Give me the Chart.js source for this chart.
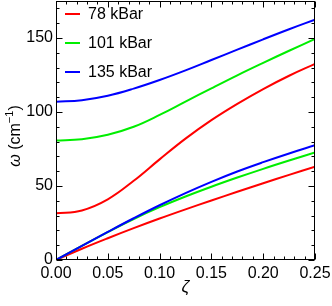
<!DOCTYPE html>
<html><head><meta charset="utf-8">
<script src="https://cdn.jsdelivr.net/npm/chart.js@4"></script>
<style>html,body{margin:0;padding:0;background:#fff}</style>
</head><body>
<canvas id="c" width="332" height="306"></canvas>
<script>
// ---- data ----
const zeta = [0, 0.025, 0.05, 0.075, 0.1, 0.125, 0.15, 0.175, 0.2, 0.225, 0.25];
const optical78  = [31.5, 33.5, 41, 53.5, 68, 82, 94.5, 105.5, 115.5, 124.5, 132.5];
const optical101 = [80.7, 81.6, 84.6, 90, 98, 107, 116, 124.8, 133.2, 141.4, 149.4];
const optical135 = [107, 108, 111, 115.8, 121.6, 128.1, 135.1, 142.1, 149.1, 155.9, 162.4];
const acoustic78  = [0, 7.6, 14.7, 21.5, 28, 34.2, 40.2, 46.1, 51.9, 57.5, 63];
const acoustic101 = [0, 9.6, 18.9, 27.7, 35.7, 42.9, 49.5, 55.7, 61.6, 67.2, 72.6];
const acoustic135 = [0, 9.6, 19, 28.2, 37, 45.2, 52.8, 59.8, 66.1, 72, 77.5];
const seriesLabels = ['78 kBar', '101 kBar', '135 kBar'];
const seriesColors = ['#ff0000', '#00ee00', '#0000ff'];
const xTicks = [0, 0.05, 0.1, 0.15, 0.2, 0.25];
const yTicks = [0, 50, 100, 150];
const xMinorStep = 0.01, yMinorStep = 10;

const FONT = '"Liberation Sans", Arial, sans-serif';
const pts = arr => arr.map((v, i) => ({x: zeta[i], y: v}));
function ds(label, data, color) {
  return {label, data: pts(data), borderColor: color, borderWidth: 2, pointRadius: 0,
          fill: false, tension: 0.4};
}
// dataset 0 drawn on top
const datasets = [
  ds(seriesLabels[2], acoustic135, seriesColors[2]),
  ds(seriesLabels[1], acoustic101, seriesColors[1]),
  ds(seriesLabels[0], acoustic78, seriesColors[0]),
  ds(seriesLabels[2], optical135, seriesColors[2]),
  ds(seriesLabels[1], optical101, seriesColors[1]),
  ds(seriesLabels[0], optical78, seriesColors[0])
];

const framePlugin = {
  id: 'frame',
  afterDraw(chart) {
    const {ctx, chartArea: a, scales: {x, y}} = chart;
    ctx.save();
    ctx.strokeStyle = '#000';
    ctx.lineWidth = 1;
    const L = Math.round(a.left) + 0.5, R = Math.round(a.right) - 0.5;
    const T = Math.round(a.top) + 0.5, B = Math.round(a.bottom) - 0.5;
    ctx.strokeRect(L, T, R - L, B - T);
    ctx.beginPath();
    const xmin = x.min, xmax = x.max;
    for (let k = 0; k <= Math.round((xmax - xmin) / xMinorStep); k++) {
      const v = xmin + k * xMinorStep;
      const major = xTicks.some(t => Math.abs(t - v) < 1e-9);
      const len = major ? 6 : 3;
      const px = Math.round(x.getPixelForValue(v)) + 0.5;
      ctx.moveTo(px, B); ctx.lineTo(px, B - len);
      ctx.moveTo(px, T); ctx.lineTo(px, T + len);
    }
    for (let v = 0; v <= y.max + 1e-9; v += yMinorStep) {
      const major = yTicks.includes(v);
      const len = major ? 6 : 3;
      const py = Math.round(y.getPixelForValue(v)) + 0.5;
      ctx.moveTo(L, py); ctx.lineTo(L + len, py);
      ctx.moveTo(R, py); ctx.lineTo(R - len, py);
    }
    ctx.stroke();

    // legend
    ctx.font = '16px ' + FONT;
    ctx.textBaseline = 'middle';
    ctx.textAlign = 'left';
    seriesLabels.forEach((lab, i) => {
      const yy = 14 + i * 29;
      ctx.strokeStyle = seriesColors[i];
      ctx.lineWidth = 2;
      ctx.beginPath(); ctx.moveTo(65, yy); ctx.lineTo(80, yy); ctx.stroke();
      ctx.fillStyle = '#000';
      ctx.fillText(lab, 88, yy + 1);
    });

    // x title
    ctx.fillStyle = '#000';
    ctx.font = 'italic 17px ' + FONT;
    ctx.textAlign = 'center';
    ctx.textBaseline = 'alphabetic';
    ctx.fillText('ζ', (a.left + a.right) / 2, 292);

    // y title: ω (cm⁻¹)
    ctx.translate(20, 136);
    ctx.rotate(-Math.PI / 2);
    const parts = [
      {t: 'ω', f: 'italic 16px ' + FONT, dy: 0},
      {t: ' (cm', f: '16px ' + FONT, dy: 0},
      {t: '−1', f: '11px ' + FONT, dy: -7},
      {t: ')', f: '16px ' + FONT, dy: 0}
    ];
    let total = 0;
    parts.forEach(p => { ctx.font = p.f; p.w = ctx.measureText(p.t).width; total += p.w; });
    let cx = -total / 2;
    ctx.textAlign = 'left';
    parts.forEach(p => { ctx.font = p.f; ctx.fillText(p.t, cx, p.dy); cx += p.w; });
    ctx.restore();
  }
};

new Chart(document.getElementById('c'), {
  type: 'line',
  data: {datasets},
  options: {
    responsive: false,
    animation: false,
    devicePixelRatio: 1,
    layout: {padding: {left: 0, right: 17, top: 1, bottom: 0}},
    plugins: {legend: {display: false}, tooltip: {enabled: false}},
    scales: {
      x: {
        type: 'linear', min: 0, max: 0.25,
        grid: {display: false, drawTicks: false},
        border: {display: false},
        afterBuildTicks: s => { s.ticks = xTicks.map(v => ({value: v})); },
        afterFit: s => { s.height = 46; s.paddingLeft = 0; s.paddingRight = 0; },
        ticks: {callback: v => v.toFixed(2), color: '#000', font: {family: FONT, size: 16}, padding: 4, maxRotation: 0, autoSkip: false}
      },
      y: {
        type: 'linear', min: 0, max: 175,
        grid: {display: false, drawTicks: false},
        border: {display: false},
        afterBuildTicks: s => { s.ticks = yTicks.map(v => ({value: v})); },
        afterFit: s => { s.width = 56; s.paddingTop = 0; s.paddingBottom = 0; },
        ticks: {color: '#000', font: {family: FONT, size: 16}, padding: 3}
      }
    }
  },
  plugins: [framePlugin]
});
</script>
</body></html>
